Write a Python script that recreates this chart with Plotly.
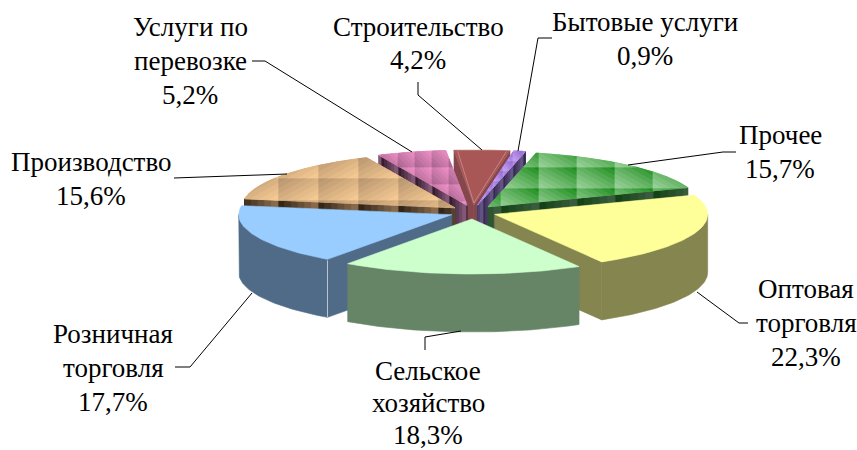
import math
import plotly.graph_objects as go

# ---- data (clockwise from the Construction slice) ----
categories = ["Строительство", "Бытовые услуги", "Прочее", "Оптовая\nторговля",
              "Сельское\nхозяйство", "Розничная\nторговля", "Производство", "Услуги по\nперевозке"]
shares = [4.2, 0.9, 15.7, 22.3, 18.3, 17.7, 15.6, 5.2]

# ---- label placement: centre x, centre y of the first line, line pitch ----
label_x = [418, 645, 780, 806, 428, 113, 91, 190]
label_y = [27, 22, 135, 289, 371, 334, 162, 27]
label_step = [33, 34, 34, 34, 32, 34, 34, 34]
leaders = [
    [(418, 82), (418, 95), (482, 150)],
    [(552, 38), (538, 38), (518, 151)],
    [(736, 152), (723, 152), (628, 165)],
    [(697, 292), (739, 323), (748, 323)],
    [(425, 350), (425, 337), (461, 331)],
    [(175, 367), (190, 367), (252, 293)],
    [(174, 178), (287, 174)],
    [(252, 61), (265, 61), (412, 152)],
]

# ---- pie geometry (pixels of the 857x450 page) ----
CX, CY = 473, 212
RX, RY = 213, 55
EX, EY = 23, 7
DEPTH = 58
START = -5.36

# ---- style per slice ----
styles = [
    dict(top="#A85656", wall="#84474C"),
    dict(top="#A97FE6", wall="#4A3A68",
         tex=dict(w=10, h=10, x0=503, y0=151, n=5, mode="ur", c=("#8F68CC", "#C9A2F5")),
         wtex=dict(w=10, h=100, x0=503, y0=150, n=4, mode="h", c=("#2F2347", "#6A5A8C"))),
    dict(top="#7DC07D", wall="#27502A",
         tex=dict(w=38, h=21, x0=539, y0=146, n=9, mode="ll", c=("#0E860E", "#9CD29C"), gamma=0.8),
         wtex=dict(w=38, h=100, x0=539, y0=150, n=5, mode="h", c=("#123F14", "#3C5F40"))),
    dict(top="#FFFF99", wall="#858550"),
    dict(top="#CCFFCC", wall="#668567"),
    dict(top="#99CCFF", wall="#4F6B88"),
    dict(top="#DDB183", wall="#6A4E35",
         tex=dict(w=40, h=22, x0=278, y0=156, n=8, mode="dr", c=("#B4926E", "#F8CC94")),
         wtex=dict(w=40, h=100, x0=278, y0=150, n=6, mode="h", c=("#2B1F14", "#8F7150"))),
    dict(top="#D87CB0", wall="#5A3550",
         tex=dict(w=17, h=17, x0=398, y0=150, n=7, mode="ll", c=("#F595CC", "#A8648F")),
         wtex=dict(w=17, h=100, x0=398, y0=150, n=5, mode="h", c=("#2E1628", "#8A5F7E"))),
]
draw_order = [0, 1, 7, 2, 6, 3, 5, 4]


def lerp_hex(a, b, s):
    ca = [int(a[i:i + 2], 16) for i in (1, 3, 5)]
    cb = [int(b[i:i + 2], 16) for i in (1, 3, 5)]
    return "#%02X%02X%02X" % tuple(round(p + (q - p) * s) for p, q in zip(ca, cb))


def clip(poly, a, b, c):
    """Keep the part of a polygon where a*x + b*y + c >= 0."""
    out = []
    for i, p in enumerate(poly):
        q = poly[(i + 1) % len(poly)]
        fp = a * p[0] + b * p[1] + c
        fq = a * q[0] + b * q[1] + c
        if fp >= 0:
            out.append(p)
        if (fp >= 0) != (fq >= 0):
            k = fp / (fp - fq)
            out.append((p[0] + (q[0] - p[0]) * k, p[1] + (q[1] - p[1]) * k))
    return out


def add_poly(fig, polys, color, lw=0.6):
    xs, ys = [], []
    for poly in polys:
        xs += [p[0] for p in poly] + [poly[0][0], None]
        ys += [p[1] for p in poly] + [poly[0][1], None]
    fig.add_trace(go.Scatter(x=xs, y=ys, mode="lines", fill="toself", fillcolor=color,
                             line=dict(color=color, width=lw), hoverinfo="skip"))


def add_textured(fig, poly, t):
    """Fill a convex polygon with tiled diagonal gradients, built from clipped bands."""
    w, h, x0, y0, n = t["w"], t["h"], t["x0"], t["y0"], t["n"]
    mode = t["mode"]
    gamma = t.get("gamma", 1.0)
    buckets = [[] for _ in range(n)]
    xmin = min(p[0] for p in poly); xmax = max(p[0] for p in poly)
    ymin = min(p[1] for p in poly); ymax = max(p[1] for p in poly)
    i0 = math.floor((xmin - x0) / w); i1 = math.ceil((xmax - x0) / w)
    j0 = math.floor((ymin - y0) / h); j1 = math.ceil((ymax - y0) / h)
    for i in range(i0, i1):
        for j in range(j0, j1):
            tx, ty = x0 + i * w, y0 + j * h
            cell = clip(poly, 1, 0, -tx)
            cell = clip(cell, -1, 0, tx + w) if cell else cell
            cell = clip(cell, 0, 1, -ty) if cell else cell
            cell = clip(cell, 0, -1, ty + h) if cell else cell
            if len(cell) < 3:
                continue
            for k in range(n):
                lo, hi = k / n, (k + 1) / n
                # s runs 0..1 across the tile
                if mode == "h":
                    a, b, c = 1 / w, 0, -tx / w
                elif mode == "dr":
                    a, b, c = 0.5 / w, 0.5 / h, -0.5 * tx / w - 0.5 * ty / h
                else:  # upper-right to lower-left
                    a, b, c = -0.5 / w, 0.5 / h, 0.5 * (tx + w) / w - 0.5 * ty / h
                band = clip(cell, a, b, c - lo)
                band = clip(band, -a, -b, hi - c) if band else band
                if len(band) >= 3:
                    buckets[k].append(band)
    for k in range(n):
        if buckets[k]:
            s = ((k + 0.5) / n) ** gamma
            add_poly(fig, buckets[k], lerp_hex(t["c"][0], t["c"][1], s), lw=0.8)


fig = go.Figure()

# angular extents from the values
angles, cum = [], START
for v in shares:
    angles.append((cum, cum + v * 3.6))
    cum += v * 3.6


def pt(apex, deg):
    r = math.radians(deg)
    return (apex[0] + RX * math.sin(r), apex[1] - RY * math.cos(r))


for idx in draw_order:
    t0, t1 = angles[idx]
    st = styles[idx]
    mid = math.radians((t0 + t1) / 2)
    apex = (CX + EX * math.sin(mid), CY - EY * math.cos(mid))
    arc = [pt(apex, t0 + (t1 - t0) * i / 60) for i in range(61)]
    # radial walls facing the viewer
    walls = []
    if math.sin(math.radians(t0)) < 0:
        walls.append([apex, pt(apex, t0)])
    if math.sin(math.radians(t1)) > 0:
        walls.append([apex, pt(apex, t1)])
    for a, b in walls:
        quad = [a, b, (b[0], b[1] + DEPTH), (a[0], a[1] + DEPTH)]
        add_poly(fig, [quad], st["wall"])
        if "wtex" in st:
            add_textured(fig, quad, st["wtex"])
    # outer rim facing the viewer
    rim_ranges = []
    for base in (0, 360, -360):
        s, e = max(t0, 90 + base), min(t1, 270 + base)
        if e > s:
            rim_ranges.append((s, e))
    for s, e in rim_ranges:
        rim = [pt(apex, s + (e - s) * i / 50) for i in range(51)]
        rim_poly = rim + [(p[0], p[1] + DEPTH) for p in reversed(rim)]
        add_poly(fig, [rim_poly], st["wall"])
    # top face
    face = [apex] + arc
    add_poly(fig, [face], st["top"])
    if "tex" in st:
        add_textured(fig, face, st["tex"])

    # thin highlight details
    if idx == 5:
        c = pt(apex, t0)
        fig.add_trace(go.Scatter(x=[c[0], c[0]], y=[c[1] + 1, c[1] + DEPTH], mode="lines",
                                 line=dict(color="#B9C4D0", width=1), hoverinfo="skip"))
    if idx == 0:
        a, b = pt(apex, t0 + 1), pt(apex, t1 - 1)
        fig.add_trace(go.Scatter(x=[a[0], apex[0], b[0]], y=[a[1] + 1, apex[1] - 2, b[1] + 1],
                                 mode="lines", line=dict(color="#CE9A9A", width=0.7),
                                 hoverinfo="skip"))

# labels, one annotation per text line so the line spacing can be held
annotations = []
for name, v, x, y, step in zip(categories, shares, label_x, label_y, label_step):
    lines = name.split("\n") + [f"{v:.1f}%".replace(".", ",")]
    for i, line in enumerate(lines):
        annotations.append(dict(x=x, y=y + i * step, xref="x", yref="y", text=line,
                                showarrow=False, xanchor="center", yanchor="middle",
                                font=dict(family="Liberation Serif", size=27, color="#000000")))

shapes = [dict(type="path", xref="x", yref="y",
               path="M " + " L ".join(f"{x},{y}" for x, y in seg),
               line=dict(color="#000000", width=1)) for seg in leaders]

fig.update_layout(
    width=857, height=450, margin=dict(l=0, r=0, t=0, b=0),
    paper_bgcolor="#FFFFFF", plot_bgcolor="#FFFFFF", showlegend=False,
    xaxis=dict(range=[0, 857], visible=False, fixedrange=True),
    yaxis=dict(range=[450, 0], visible=False, fixedrange=True),
    annotations=annotations, shapes=shapes,
)
fig.write_html("out.html", config=dict(displayModeBar=False),
               post_script="document.body.style.margin='0';document.body.style.overflow='hidden';")
